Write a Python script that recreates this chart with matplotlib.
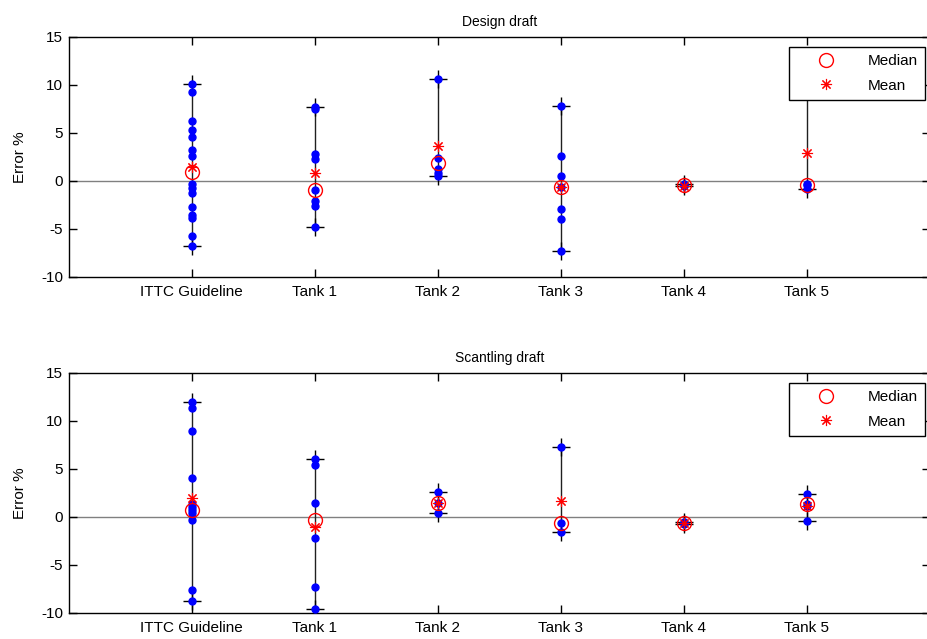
import matplotlib
matplotlib.use("Agg")
import matplotlib.pyplot as plt
from matplotlib.lines import Line2D

plt.rcParams["font.family"] = ["Liberation Sans", "DejaVu Sans"]
plt.rcParams["axes.unicode_minus"] = False

categories = ["ITTC Guideline", "Tank 1", "Tank 2", "Tank 3", "Tank 4", "Tank 5"]
y_ticks = [-10, -5, 0, 5, 10, 15]

# Design draft: individual errors (%) per source
design_ittc = [10.1, 9.3, 6.3, 5.3, 4.6, 3.2, 2.6, -0.3, -0.7, -1.3, -2.7, -3.5, -3.9, -5.7, -6.8]
design_tank1 = [7.7, 7.5, 2.8, 2.3, -0.95, -2.1, -2.6, -4.8]
design_tank2 = [10.6, 2.4, 1.2, 0.8, 0.5]
design_tank3 = [7.85, 2.65, 0.5, -0.6, -2.95, -3.95, -7.3]
design_tank4 = [-0.35, -0.45, -0.55]
design_tank5 = [12.0, -0.35, -0.45, -0.85]
design_medians = [0.95, -0.95, 1.85, -0.6, -0.45, -0.4]
design_means = [1.5, 0.8, 3.65, -0.6, -0.5, 2.9]

# Scantling draft: individual errors (%) per source
scant_ittc = [12.0, 11.4, 9.0, 4.1, 1.4, 1.0, 0.7, 0.4, -0.3, -7.6, -8.7]
scant_tank1 = [6.0, 5.4, 1.5, -2.2, -7.3, -9.6]
scant_tank2 = [2.65, 1.5, 0.4]
scant_tank3 = [7.25, -0.6, -1.55]
scant_tank4 = [-0.5, -0.6, -0.7]
scant_tank5 = [2.4, 1.4, 1.15, -0.4]
scant_medians = [0.7, -0.3, 1.5, -0.6, -0.6, 1.4]
scant_means = [1.95, -1.05, 1.5, 1.7, -0.6, 1.15]

design_points = [design_ittc, design_tank1, design_tank2, design_tank3, design_tank4, design_tank5]
scant_points = [scant_ittc, scant_tank1, scant_tank2, scant_tank3, scant_tank4, scant_tank5]

FS = 11
STAR = (8, 2, 0)

fig = plt.figure(figsize=(9.27, 6.39), dpi=100)
W, H = 927.0, 639.0
left, right = 68.5, 930.0
ax_top = fig.add_axes([left / W, 1 - 277 / H, (right - left) / W, 240 / H])
ax_bot = fig.add_axes([left / W, 1 - 613 / H, (right - left) / W, 240 / H])


def draw_panel(ax, points, medians, means, title):
    xs = list(range(1, len(categories) + 1))
    ax.axhline(0, color="#808080", lw=1, zorder=1)
    for x, vals in zip(xs, points):
        lo, hi = min(vals), max(vals)
        ax.plot([x, x], [lo, hi], color="#202020", lw=1, zorder=2)
        ax.plot([x, x], [lo, hi], ls="none", marker="+", ms=13, mew=1,
                color="black", zorder=2.5)
        ax.plot([x] * len(vals), vals, ls="none", marker="o", ms=5,
                color="blue", mec="blue", zorder=3)
    ax.plot(xs, medians, ls="none", marker="o", ms=10, mfc="none",
            mec="red", mew=1, zorder=4)
    ax.plot(xs, means, ls="none", marker=STAR, ms=8, color="red",
            mew=0.8, zorder=4)

    ax.set_xlim(0, 7)
    ax.set_ylim(-10, 15)
    ax.set_yticks(y_ticks)
    ax.set_xticks(xs)
    ax.set_xticklabels(categories)
    ax.tick_params(direction="in", top=True, right=True, length=6,
                   width=1, labelsize=FS)
    ax.tick_params(axis="y", pad=4)
    ax.tick_params(axis="x", pad=6)
    for s in ax.spines.values():
        s.set_linewidth(1)
    ax.set_ylabel("Error %", fontsize=FS, labelpad=10)
    ax.set_title(title, fontsize=10, pad=8)

    handles = [
        Line2D([], [], ls="none", marker="o", ms=10, mfc="none", mec="red", mew=1),
        Line2D([], [], ls="none", marker=STAR, ms=8, color="red", mew=0.8),
    ]
    leg = ax.legend(handles, ["Median", "Mean"], loc="upper right",
                    bbox_to_anchor=(0.994, 0.958), borderaxespad=0,
                    fontsize=FS, fancybox=False, framealpha=1,
                    edgecolor="black", handlelength=3.9, handletextpad=0.8,
                    borderpad=0.45, labelspacing=0.7)
    leg.get_frame().set_linewidth(1)
    leg.set_zorder(10)


draw_panel(ax_top, design_points, design_medians, design_means, "Design draft")
draw_panel(ax_bot, scant_points, scant_medians, scant_means, "Scantling draft")

fig.savefig("out.png", dpi=100)
